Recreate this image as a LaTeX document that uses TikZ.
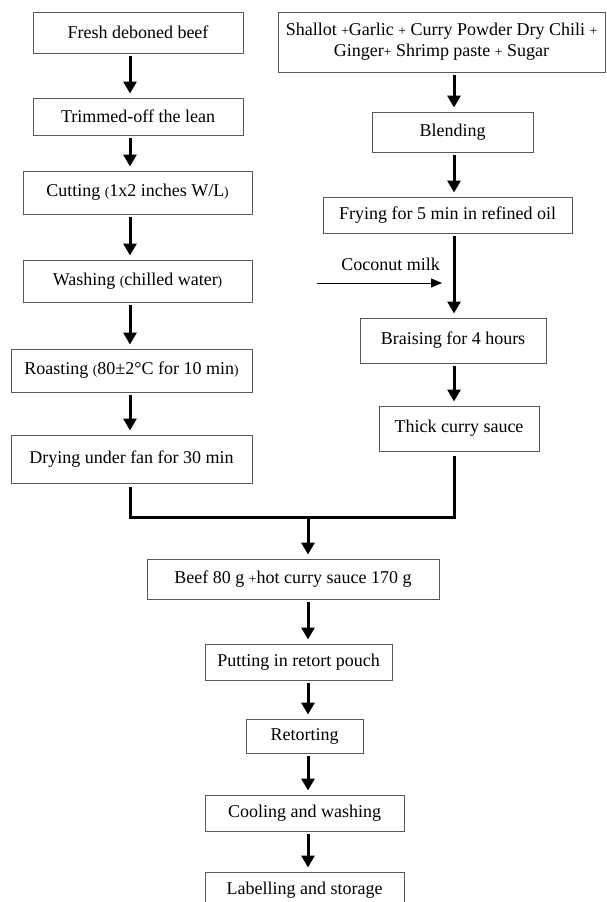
\documentclass[tikz,border=0pt]{standalone}
\usepackage{fontspec}
\setmainfont{Liberation Serif}
\usetikzlibrary{arrows.meta,calc}

\newcommand{\smallsym}[1]{{\fontsize{13.5}{13.5}\selectfont #1}}

\tikzset{
  box/.style 2 args={draw=black!65, line width=1pt, inner sep=0pt,
    minimum width=#1pt, minimum height=#2pt, align=center,
    font=\fontsize{18}{21}\selectfont},
  note/.style={font=\fontsize{18}{21}\selectfont},
  flow/.style={line width=3pt, -{Triangle[width=13pt,length=12pt]},
    shorten <=2pt, shorten >=4pt},
  joinline/.style={line width=3pt, shorten <=3pt, shorten >=4pt},
  feed/.style={line width=1pt, -{Triangle[width=9pt,length=11pt]}}
}

\begin{document}
\begin{tikzpicture}[x=1pt,y=-1pt]
    \useasboundingbox (0,0) rectangle (606,902);

    \coordinate (colA) at (130,0);
    \coordinate (colB) at (454,0);
    \coordinate (colC) at (308,0);

    % beef
    \node[box={210}{41}] (fresh) at (138,32.5) {Fresh deboned beef};
    \node[box={210}{37}] (trim) at (138,116.5) {Trimmed-off the lean};
    \node[box={229}{43}] (cut) at (137.5,192.5) {Cutting \smallsym{(}1x2 inches W/L\smallsym{)}};
    \node[box={229}{42}] (wash) at (137.5,281) {Washing \smallsym{(}chilled water\smallsym{)}};
    \node[box={241}{43}] (roast) at (131.5,370.5) {Roasting \smallsym{(}80±2°C for 10 min\smallsym{)}};
    \node[box={241}{48}] (dry) at (131.5,459) {Drying under fan for 30 min};

    % sauce
    \node[box={327}{60}] (spice) at (441.5,42) {Shallot \smallsym{+}Garlic \smallsym{+} Curry Powder Dry Chili \smallsym{+}\\Ginger\smallsym{+} Shrimp paste \smallsym{+} Sugar};
    \node[box={161}{40}] (blend) at (452.5,132) {Blending};
    \node[box={249}{36}] (fry) at (447.5,215) {Frying for 5 min in refined oil};
    \node[box={186}{45}] (braise) at (453,340.5) {Braising for 4 hours};
    \node[box={160}{45}] (thick) at (459,428.5) {Thick curry sauce};
    \node[note] (milk) at (390.5,264) {Coconut milk};
    \coordinate (milkin) at (317,283);

    % product
    \node[box={292}{40}] (mix) at (293,579) {Beef 80 g \smallsym{+}hot curry sauce 170 g};
    \node[box={187}{36}] (pouch) at (298.5,662) {Putting in retort pouch};
    \node[box={117}{34}] (retort) at (304.5,736) {Retorting};
    \node[box={199}{36}] (cool) at (304.5,813) {Cooling and washing};
    \node[box={199}{36}] (store) at (304.5,890) {Labelling and storage};

    \foreach \a/\b in {fresh/trim,trim/cut,cut/wash,wash/roast,roast/dry}
        \draw[flow] (\a.south -| colA) -- (\b.north -| colA);
    \foreach \a/\b in {spice/blend,blend/fry,fry/braise,braise/thick}
        \draw[flow] (\a.south -| colB) -- (\b.north -| colB);
    \foreach \a/\b in {mix/pouch,pouch/retort,retort/cool,cool/store}
        \draw[flow] (\a.south -| colC) -- (\b.north -| colC);

    \draw[feed] (milkin) -- ($(milkin -| colB)+(-12,0)$);

    \coordinate (merge) at (308,517);
    \draw[joinline] (dry.south -| colA) |- (merge) -| (thick.south -| colB);
    \draw[flow, shorten <=0pt] (merge) -- (mix.north -| merge);
\end{tikzpicture}
\end{document}
